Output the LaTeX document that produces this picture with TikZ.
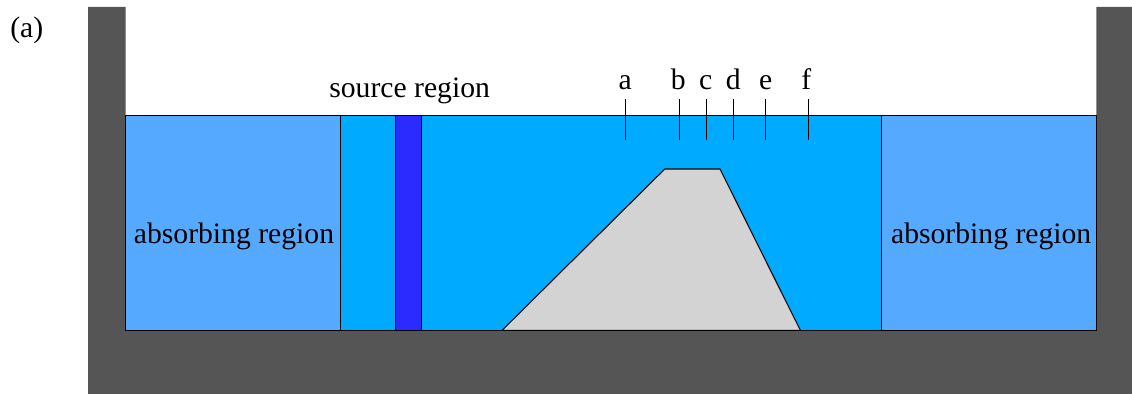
\documentclass[tikz,border=0pt]{standalone}
\usepackage{fontspec}
\setmainfont{Liberation Serif}
\definecolor{wallGray}{RGB}{85,85,85}
\definecolor{waterBlue}{RGB}{0,170,255}
\definecolor{absorbBlue}{RGB}{85,170,255}
\definecolor{sourceBlue}{RGB}{43,43,255}
\definecolor{hillGray}{RGB}{211,211,211}
\tikzset{
  region/.style={draw=black,line width=0.75pt},
  tick/.style={draw=black,line width=0.55pt},
  lbl/.style={font=\fontsize{21.1}{23}\selectfont,inner sep=0pt},
}
\begin{document}
\begin{tikzpicture}[x=1cm,y=1cm]
\path[use as bounding box] (0,0) rectangle (28.30,-9.85);
\fill[wallGray] (2.20,-0.175) -- (3.14,-0.175) -- (3.14,-8.26) -- (27.41,-8.26) -- (27.41,-0.175) -- (28.30,-0.175) -- (28.30,-9.85) -- (2.20,-9.85) -- cycle;

\path[region,fill=waterBlue] (8.51,-2.89) rectangle (22.04,-8.26);
\path[region,fill=absorbBlue] (3.14,-2.89) rectangle (8.51,-8.26);
\path[region,fill=absorbBlue] (22.04,-2.89) rectangle (27.41,-8.26);
\path[region,fill=sourceBlue] (9.89,-2.89) rectangle (10.54,-8.26);
\path[region,fill=hillGray] (12.55,-8.26) -- (16.62,-4.225) -- (18.00,-4.225) -- (20.01,-8.26) -- cycle;

\node[lbl,anchor=base] (panel) at (0.67,-0.93) {(a)};
\node[lbl,anchor=base] (source) at (10.24,-2.44) {source region};
\node[lbl,anchor=base] (absorbL) at (5.85,-6.08) {absorbing region};
\node[lbl,anchor=base] (absorbR) at (24.78,-6.08) {absorbing region};

\foreach \name/\xl/\xt in {a/15.63/15.63,b/16.96/16.98,c/17.64/17.65,d/18.33/18.33,e/19.14/19.13,f/20.16/20.20}{
  \node[lbl,anchor=base] (\name) at (\xl,-2.23) {\name};
  \coordinate (\name top) at (\xt,-2.48);
  \coordinate (\name low) at (\xt,-3.49);
  \draw[tick] (\name top) -- (\name low);
}
\end{tikzpicture}
\end{document}
